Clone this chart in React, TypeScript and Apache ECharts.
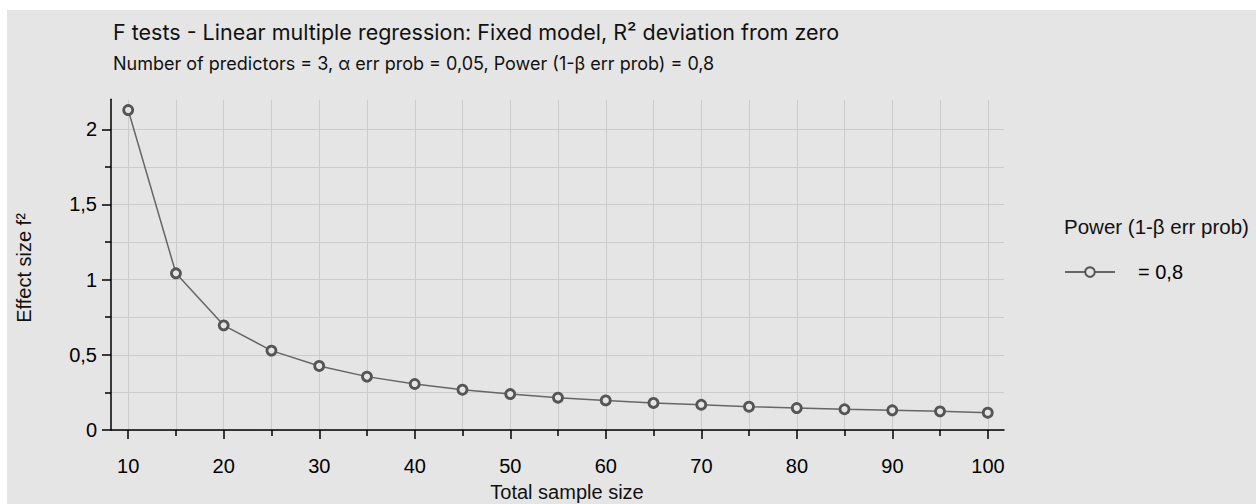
import React, { useEffect, useRef } from "react";
import * as echarts from "echarts";

const sampleSizes = [10, 15, 20, 25, 30, 35, 40, 45, 50, 55, 60, 65, 70, 75, 80, 85, 90, 95, 100];
const effectSizes = [2.128, 1.042, 0.696, 0.528, 0.426, 0.355, 0.306, 0.268, 0.239, 0.215, 0.197, 0.18, 0.168, 0.155, 0.146, 0.138, 0.131, 0.124, 0.115];
const seriesName = "0,8";
const titleText = "F tests - Linear multiple regression: Fixed model, R² deviation from zero";
const subtitleText = "Number of predictors = 3, α err prob = 0,05, Power (1-β err prob) = 0,8";
const xAxisName = "Total sample size";
const yAxisName = "Effect size f²";
const legendTitle = "Power (1-β err prob)";

const FONT = "'Liberation Sans', Arial, Helvetica, sans-serif";
const TITLE_FONT = "Inter, 'Liberation Sans', sans-serif";
const BG = "#e5e5e5";
const GRID_COLOR = "#cbcbcb";

export default function App() {
  const ref = useRef<HTMLDivElement>(null);
  useEffect(() => {
    if (!ref.current) return;
    const chart = echarts.init(ref.current, undefined, { renderer: "svg" });
    const data = sampleSizes.map((x, i) => [x, effectSizes[i]]);
    chart.setOption({
      animation: false,
      backgroundColor: BG,
      textStyle: { fontFamily: FONT },
      grid: [
        { left: 104, top: 89.2, width: 893, height: 330.8, outerBoundsMode: "none", containLabel: false },
        { left: 121.2, top: 90, width: 859.8, height: 330, outerBoundsMode: "none", containLabel: false },
        { left: 104, top: 119.3, width: 893, height: 300.7, outerBoundsMode: "none", containLabel: false },
      ],
      xAxis: [
        {
          gridIndex: 0, type: "value", min: 8.2, max: 101.7, z: 3,
          axisLine: { show: true, lineStyle: { color: "#000", width: 1.5 } },
          axisTick: { show: false }, axisLabel: { show: false }, splitLine: { show: false },
        },
        {
          gridIndex: 1, type: "value", min: 10, max: 100, interval: 10, z: 1,
          axisLine: { show: false },
          axisTick: { show: true, length: 9, inside: false, lineStyle: { color: "#000", width: 1.5 } },
          minorTick: { show: true, splitNumber: 2, length: 6, lineStyle: { color: "#000", width: 1.5 } },
          splitLine: { show: true, lineStyle: { color: GRID_COLOR, width: 1 } },
          minorSplitLine: { show: true, lineStyle: { color: GRID_COLOR, width: 1 } },
          axisLabel: { show: true, margin: 26, fontSize: 20, color: "#000", fontFamily: FONT, showMinLabel: true, showMaxLabel: true },
        },
        { gridIndex: 2, type: "value", min: 0, max: 1, show: false },
      ],
      yAxis: [
        {
          gridIndex: 0, type: "value", min: 0, max: 2.2, z: 3,
          axisLine: { show: true, lineStyle: { color: "#000", width: 1.5 } },
          axisTick: { show: false }, axisLabel: { show: false }, splitLine: { show: false },
        },
        { gridIndex: 1, type: "value", min: 0, max: 1, show: false },
        {
          gridIndex: 2, type: "value", min: 0, max: 2, interval: 0.5, z: 1,
          axisLine: { show: false },
          axisTick: { show: true, length: 9, inside: false, lineStyle: { color: "#000", width: 1.5 } },
          minorTick: { show: true, splitNumber: 2, length: 6, lineStyle: { color: "#000", width: 1.5 } },
          splitLine: { show: true, lineStyle: { color: GRID_COLOR, width: 1 } },
          minorSplitLine: { show: true, lineStyle: { color: GRID_COLOR, width: 1 } },
          axisLabel: {
            show: true, margin: 14, fontSize: 20, color: "#000", fontFamily: FONT,
            formatter: (v: number) => String(v).replace(".", ","),
          },
        },
      ],
      legend: {
        show: true,
        data: [seriesName],
        left: 1052,
        top: 247,
        itemWidth: 50,
        itemHeight: 12,
        formatter: (n: string) => "= " + n,
        textStyle: { fontSize: 20, color: "#000", fontFamily: FONT, padding: [0, 0, 0, 18] },
      },
      graphic: [
        { type: "text", x: 106, y: 22, style: { text: titleText, fontSize: 21.5, fill: "#111", fontFamily: TITLE_FONT, textVerticalAlign: "middle" } },
        { type: "text", x: 106, y: 53.5, style: { text: subtitleText, fontSize: 18, fill: "#111", fontFamily: TITLE_FONT, textVerticalAlign: "middle" } },
        { type: "text", x: 1057, y: 216, style: { text: legendTitle, fontSize: 20.5, fill: "#111", fontFamily: FONT, textVerticalAlign: "middle" } },
        { type: "text", x: 560, y: 482, style: { text: xAxisName, fontSize: 20, fill: "#111", fontFamily: FONT, textAlign: "center", textVerticalAlign: "middle" } },
        { type: "text", x: 17, y: 258, rotation: Math.PI / 2, style: { text: yAxisName, fontSize: 20, fill: "#111", fontFamily: FONT, textAlign: "center", textVerticalAlign: "middle" } },
      ],
      series: [
        {
          name: seriesName,
          type: "line",
          xAxisIndex: 0,
          yAxisIndex: 0,
          data,
          symbol: "circle",
          symbolSize: 9,
          showAllSymbol: true,
          z: 5,
          lineStyle: { color: "#666", width: 1.5 },
          itemStyle: { color: BG, borderColor: "#555", borderWidth: 2.8 },
        },
      ],
    });
    return () => chart.dispose();
  }, []);
  return (
    <div style={{ position: "fixed", left: 0, top: 0, width: 1256, height: 504, background: "#fff" }}>
      <div ref={ref} style={{ position: "absolute", left: 7, top: 10, width: 1249, height: 494 }} />
    </div>
  );
}
